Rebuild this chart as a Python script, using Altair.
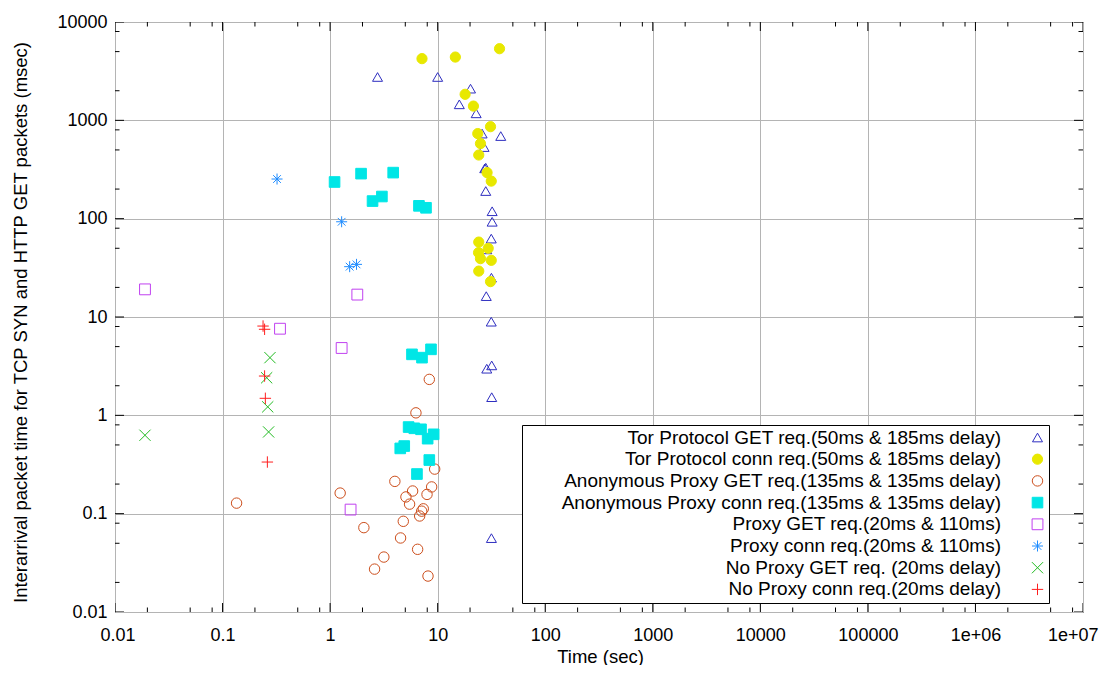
import altair as alt
import pandas as pd

# ---------------- data ----------------
series_names = [
    "Tor Protocol GET req.(50ms & 185ms delay)",
    "Tor Protocol conn req.(50ms & 185ms delay)",
    "Anonymous Proxy GET req.(135ms & 135ms delay)",
    "Anonymous Proxy conn req.(135ms & 135ms delay)",
    "Proxy GET req.(20ms & 110ms)",
    "Proxy conn req.(20ms & 110ms)",
    "No Proxy GET req. (20ms delay)",
    "No Proxy conn req.(20ms delay)",
]

tor_get_x = [2.76, 10.0, 20.2, 15.9, 22.8, 25.9, 38.6, 27.0, 28.0, 27.4, 28.0, 32.1,
             32.1, 31.5, 28.6, 31.6, 28.3, 31.5, 31.8, 28.6, 31.8, 31.6]
tor_get_y = [2760, 2760, 2100, 1455, 1178, 733, 692, 535, 330, 325, 191, 119,
             93, 62.7, 48.7, 25.1, 16.3, 8.96, 3.22, 2.98, 1.53, 0.0564]

tor_conn_x = [7.15, 14.6, 37.6, 18.0, 21.5, 31.0, 23.6, 25.0, 24.1, 28.8, 31.5,
              24.1, 24.0, 29.5, 25.0, 31.5, 24.1, 31.0]
tor_conn_y = [4240, 4400, 5350, 1840, 1396, 862, 733, 580, 444, 294, 241,
              57.8, 45.1, 50.0, 39.2, 37.7, 29.3, 22.9]

anon_get_x = [8.36, 6.28, 9.38, 4.0, 0.135, 1.24, 5.85, 8.79, 7.96, 5.07, 5.48,
              7.35, 7.1, 6.8, 4.79, 2.06, 4.52, 6.51, 3.16, 2.59, 8.13]
anon_get_y = [2.32, 1.06, 0.284, 0.213, 0.128, 0.162, 0.170, 0.187, 0.157, 0.148, 0.125,
              0.112, 0.106, 0.0947, 0.0836, 0.0721, 0.0566, 0.0434, 0.0362, 0.0273, 0.0232]

anon_conn_x = [1.10, 1.94, 3.86, 2.48, 3.03, 6.70, 7.79, 5.77, 7.15, 8.67,
               5.37, 6.06, 7.0, 8.07, 9.18, 4.49, 4.89, 8.36, 6.42]
anon_conn_y = [236, 287, 294, 151, 168, 135, 129, 4.17, 3.86, 4.69,
               0.760, 0.738, 0.721, 0.579, 0.641, 0.461, 0.487, 0.351, 0.253]

proxy_get_x = [0.019, 1.79, 0.342, 1.28, 1.55]
proxy_get_y = [19.1, 16.9, 7.6, 4.84, 0.110]

proxy_conn_x = [0.321, 1.28, 1.52, 1.76]
proxy_conn_y = [253, 93, 32.5, 34.3]

noproxy_get_x = [0.019, 0.276, 0.257, 0.263, 0.268]
noproxy_get_y = [0.627, 3.86, 2.41, 1.22, 0.678]

noproxy_conn_x = [0.238, 0.246, 0.246, 0.250, 0.261]
noproxy_conn_y = [8.09, 7.5, 2.51, 1.49, 0.335]

x_major = [0.01, 0.1, 1, 10, 100, 1000, 10000, 100000, 1000000, 10000000]
y_major = [0.01, 0.1, 1, 10, 100, 1000, 10000]
minor_mult = [2, 5, 8]

# ---------------- styling ----------------
colors = ["#2e2ec0", "#e8e800", "#cc4e1c", "#00e6e6", "#c040f0", "#1e8cff", "#22bb22", "#ff1e1e"]
fills = ["transparent", "#e8e800", "transparent", "#00e6e6",
         "transparent", "transparent", "transparent", "transparent"]
asterisk = "M-1,0L1,0M0,-1L0,1M-0.7,-0.7L0.7,0.7M-0.7,0.7L0.7,-0.7"
xcross = "M-1,-1L1,1M-1,1L1,-1"
plus = "M-1,0L1,0M0,-1L0,1"
shapes = ["triangle-up", "circle", "circle", "square", "square", asterisk, xcross, plus]
sizes = [100, 130, 81, 100, 90, 100, 81, 81]

xs_list = [tor_get_x, tor_conn_x, anon_get_x, anon_conn_x, proxy_get_x, proxy_conn_x,
           noproxy_get_x, noproxy_conn_x]
ys_list = [tor_get_y, tor_conn_y, anon_get_y, anon_conn_y, proxy_get_y, proxy_conn_y,
           noproxy_get_y, noproxy_conn_y]

rows = []
for i, (name, xs, ys) in enumerate(zip(series_names, xs_list, ys_list)):
    for xv, yv in zip(xs, ys):
        rows.append({"series": name, "order": i, "t": xv, "v": yv})
df = pd.DataFrame(rows)

W, H = 968, 590
x_minor = [m * 10 ** k for k in range(-2, 7) for m in minor_mult]
y_minor = [m * 10 ** k for k in range(-2, 4) for m in minor_mult]
xt_major = pd.DataFrame({"t": x_major})
xt_minor = pd.DataFrame({"t": x_minor})
yt_major = pd.DataFrame({"v": y_major})
yt_minor = pd.DataFrame({"v": y_minor})

xscale = alt.Scale(type="log", domain=[0.01, 1e7])
yscale = alt.Scale(type="log", domain=[0.01, 1e4])

x_label_expr = ("datum.value >= 1000000 ? replace(format(datum.value, '.0e'), 'e+', 'e+0') "
                ": format(datum.value, '')")
y_label_expr = "format(datum.value, '')"

x_axis = alt.Axis(values=x_major, labelExpr=x_label_expr, ticks=False, domain=False,
                  grid=True, labelPadding=14, labelFlush=True, labelFlushOffset=15,
                  labelOverlap=False,
                  title="Time (sec)", titleX=485, titleY=44,
                  titleBaseline="middle", titleAlign="center")
y_axis = alt.Axis(values=y_major, labelExpr=y_label_expr, ticks=False, domain=False,
                  grid=True, labelPadding=8, labelFlush=False, labelOverlap=False,
                  title="Interarrival packet time for TCP SYN and HTTP GET packets (msec)",
                  titleX=-95, titleY=300, titleBaseline="middle", titleAlign="center",
                  titleAngle=270)

stroke_enc = alt.Stroke("series:N", sort=series_names,
                        scale=alt.Scale(domain=series_names, range=colors),
                        legend=alt.Legend(title=None))
fill_enc = alt.Fill("series:N", sort=series_names,
                    scale=alt.Scale(domain=series_names, range=fills),
                    legend=alt.Legend(title=None))
shape_enc = alt.Shape("series:N", sort=series_names,
                      scale=alt.Scale(domain=series_names, range=shapes),
                      legend=alt.Legend(title=None))
size_enc = alt.Size("series:N", sort=series_names,
                    scale=alt.Scale(domain=series_names, range=sizes),
                    legend=alt.Legend(title=None))

points = alt.Chart(df).mark_point(filled=False, strokeWidth=1, opacity=1).encode(
    x=alt.X("t:Q", scale=xscale, axis=x_axis),
    y=alt.Y("v:Q", scale=yscale, axis=y_axis),
    stroke=stroke_enc,
    fill=fill_enc,
    shape=shape_enc,
    size=size_enc,
    order=alt.Order("order:Q"),
)

dot_series = [series_names[0], series_names[2], series_names[4]]
dots = alt.Chart(df).transform_filter(
    alt.FieldOneOfPredicate(field="series", oneOf=dot_series)
).mark_point(filled=True, shape="circle", size=3, opacity=1).encode(
    x=alt.X("t:Q", scale=xscale, axis=x_axis),
    y=alt.Y("v:Q", scale=yscale, axis=y_axis),
    fill=alt.Fill("series:N", scale=alt.Scale(domain=series_names, range=colors), legend=None),
)


# inward frame ticks: tick marks centred on the frame edge, clipped to the plot area
def x_edge_ticks(data, length, edge_px):
    return alt.Chart(data).mark_tick(
        orient="vertical", size=2 * length, thickness=1, color="black", clip=True, opacity=1
    ).encode(x=alt.X("t:Q", scale=xscale, axis=x_axis), y=alt.value(edge_px))


def y_edge_ticks(data, length, edge_px):
    return alt.Chart(data).mark_tick(
        orient="horizontal", size=2 * length, thickness=1, color="black", clip=True, opacity=1
    ).encode(y=alt.Y("v:Q", scale=yscale, axis=y_axis), x=alt.value(edge_px))


tick_layers = [
    x_edge_ticks(xt_major, 9, 0), x_edge_ticks(xt_minor, 4.5, 0),
    x_edge_ticks(xt_major, 9, H), x_edge_ticks(xt_minor, 4.5, H),
    y_edge_ticks(yt_major, 9, 0), y_edge_ticks(yt_minor, 4.5, 0),
    y_edge_ticks(yt_major, 9, W), y_edge_ticks(yt_minor, 4.5, W),
]

chart = alt.layer(points, dots, *tick_layers).properties(
    width=W, height=H,
    autosize=alt.AutoSizeParams(type="none"),
    padding={"left": 107, "top": 14, "right": 22, "bottom": 53},
    background="white",
).configure_view(
    stroke="black", strokeWidth=1
).configure_axis(
    gridColor="#b4b4b4", gridWidth=1, gridOpacity=1,
    labelFont="Liberation Sans", titleFont="Liberation Sans",
    labelFontSize=18, titleFontSize=18.5, labelColor="black", titleColor="black",
    titleFontWeight="normal",
).configure_legend(
    orient="none", legendX=407, legendY=403, columns=1,
    labelFont="Liberation Sans", labelFontSize=19, labelColor="black",
    labelAlign="right", labelOffset={"expr": "-46"}, symbolOffset=503, labelLimit=0,
    rowPadding=1.7, padding=3, strokeColor="black", fillColor="white",
    symbolStrokeWidth=1, symbolOpacity=1,
)

chart.save("out.html", embed_options={"renderer": "svg", "actions": False})
